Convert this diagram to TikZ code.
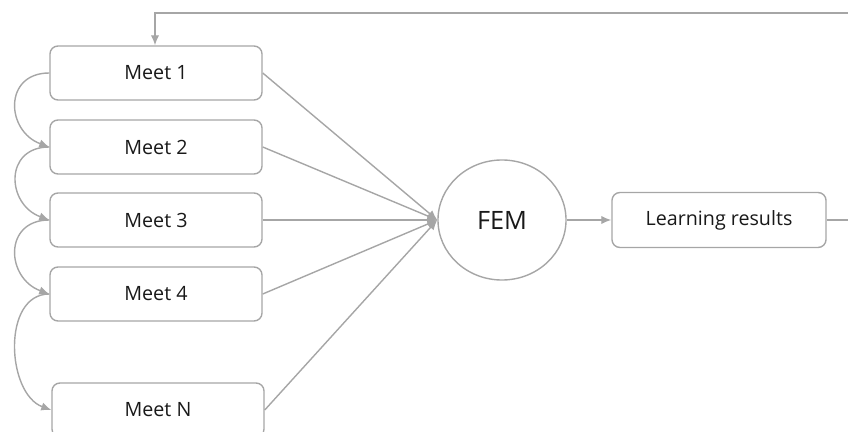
\documentclass[tikz,border=0pt]{standalone}
\usepackage{fontspec}
\setmainfont{Open Sans}
\usetikzlibrary{shapes.geometric, arrows.meta}
\definecolor{linegray}{RGB}{166,166,166}
\definecolor{textgray}{RGB}{25,25,25}
\tikzset{
	meetbox/.style={draw=linegray, line width=1pt, rounded corners=0.2cm, minimum width=5.3cm, minimum height=1.35cm, text=textgray, font=\fontsize{14}{16}\selectfont},
	femnode/.style={draw=linegray, line width=1pt, ellipse, minimum width=3.2cm, minimum height=3cm, inner sep=0pt, text=textgray, font=\fontsize{18}{20}\selectfont},
	conn/.style={draw=linegray, line width=1pt, ->, >={Latex[length=2.5mm, width=2.1mm]}}
}
\begin{document}
\begin{tikzpicture}[x=0.025cm, y=-0.025cm]
	\useasboundingbox (0,0) rectangle (848,432);
	\clip (0,0) rectangle (848,432);
	% meetings
	\node[meetbox] (m1) at (156,73) {Meet 1};
	\node[meetbox] (m2) at (156,147) {Meet 2};
	\node[meetbox] (m3) at (156,220) {Meet 3};
	\node[meetbox] (m4) at (156,294) {Meet 4};
	\node[meetbox] (mn) at (158,410) {Meet N};
	\node[femnode] (fem) at (502,220) {FEM};
	\node[meetbox, minimum width=5.35cm, minimum height=1.375cm] (res) at (719,220) {Learning results};
	\coordinate (cornerR) at (880,220);
	\coordinate (cornerT) at (880,13);
	\coordinate (cornerL) at (155,13);
	% sequence
	\draw[conn] (m1.west) to[out=180, in=160, looseness=1.6] (m2.west);
	\draw[conn] (m2.west) to[out=180, in=160, looseness=1.6] (m3.west);
	\draw[conn] (m3.west) to[out=180, in=160, looseness=1.6] (m4.west);
	\draw[conn] (m4.west) to[out=180, in=160, looseness=1.05] (mn.west);
	% into FEM
	\foreach \m in {m1,m2,m3,m4,mn}
		\draw[conn] (\m.east) -- (fem.west);
	\draw[conn] (fem.east) -- (res.west);
	% feedback
	\draw[conn] (res.east) -- (cornerR) -- (cornerT) -- (cornerL) -- (m1.north -| cornerL);
\end{tikzpicture}
\end{document}
